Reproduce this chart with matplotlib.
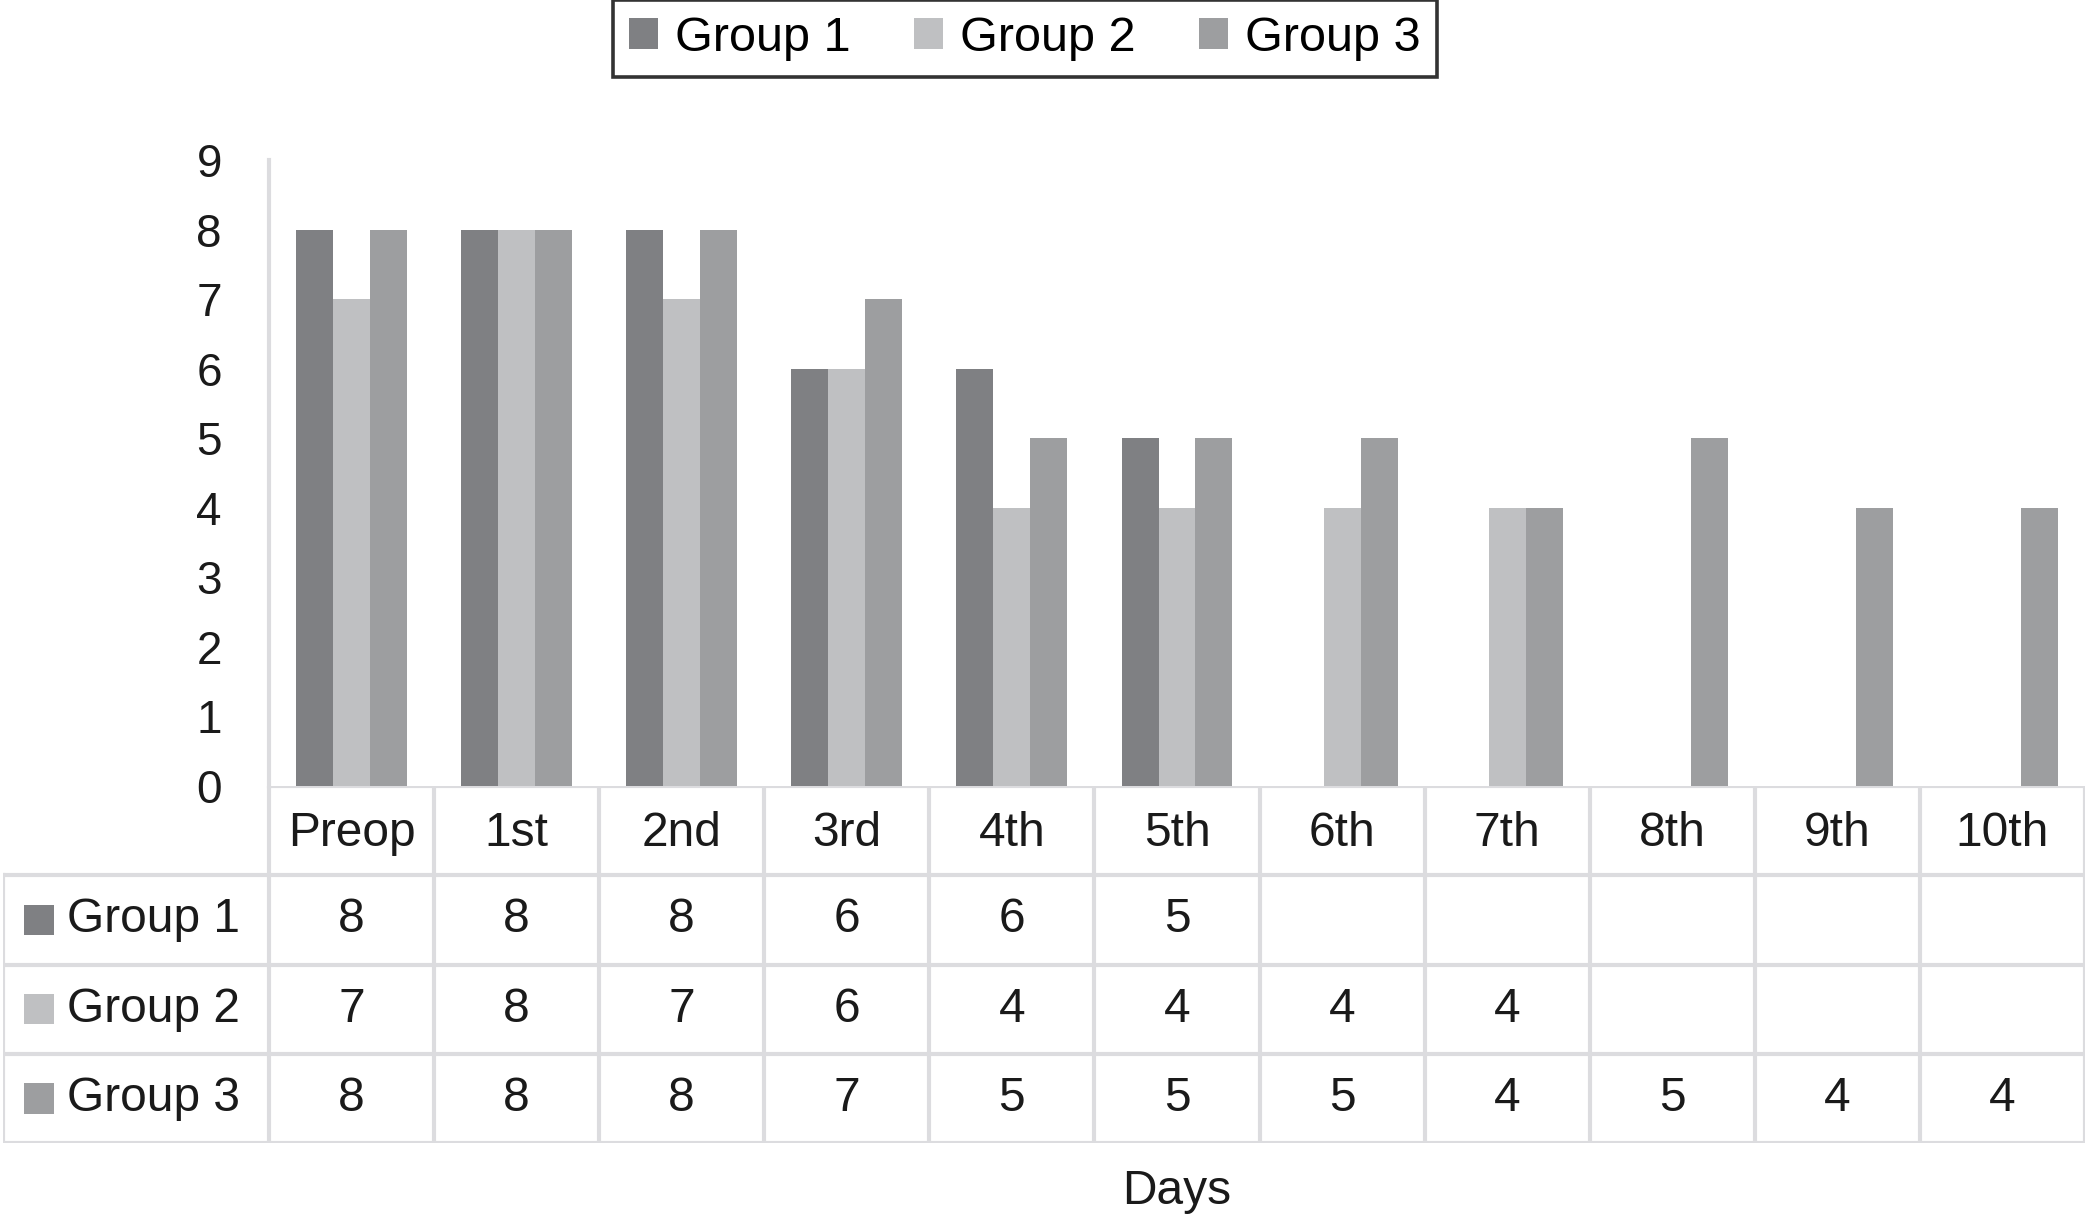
import matplotlib.pyplot as plt
from matplotlib.patches import Rectangle
import numpy as np

plt.rcParams['font.family'] = ['Liberation Sans', 'DejaVu Sans']

# data
days = ['Preop', '1st', '2nd', '3rd', '4th', '5th', '6th', '7th', '8th', '9th', '10th']
group_names = ['Group 1', 'Group 2', 'Group 3']
group1 = [8, 8, 8, 6, 6, 5, None, None, None, None, None]
group2 = [7, 8, 7, 6, 4, 4, 4, 4, None, None, None]
group3 = [8, 8, 8, 7, 5, 5, 5, 4, 5, 4, 4]
colors = ['#7f8083', '#bfc0c2', '#9d9ea0']
grid_col = '#dcdcdf'

W, H = 2088, 1219
fig = plt.figure(figsize=(W / 100, H / 100), dpi=100)

# pixel layout
x0, x1 = 269, 2085      # category columns
y_top, y_base = 160, 786  # axes top (9) and base (0)
lab_left = 3
row_h = (1143 - 786) / 4

ax = fig.add_axes([x0 / W, 1 - y_base / H, (x1 - x0) / W, (y_base - y_top) / H])
n = len(days)
xc = np.arange(n) + 0.5
bw = 0.224
series = [group1, group2, group3]
for k, vals in enumerate(series):
    v = np.array([np.nan if a is None else a for a in vals], dtype=float)
    ax.bar(xc + (k - 1) * bw, np.nan_to_num(v), width=bw, color=colors[k],
           label=group_names[k], linewidth=0)
ax.set_xlim(0, n)
ax.set_ylim(0, 9)
ax.set_yticks(range(10))
ax.tick_params(axis='y', length=0, pad=34, labelsize=33, colors='#1a1a1a')
ax.set_xticks([])
for s in ['top', 'right', 'bottom']:
    ax.spines[s].set_visible(False)
ax.spines['left'].set_color(grid_col)
ax.spines['left'].set_linewidth(3)

# table under the plot
fs = 34.5
lab_w = (x0 - lab_left) / ((x1 - x0) / n)
tab = fig.add_axes([lab_left / W, 1 - 1143 / H, (x1 - lab_left) / W, 4 * row_h / H])
tab.set_xlim(-lab_w, n)
tab.set_ylim(0, 4)
tab.axis('off')
lw = 3
# horizontal lines
tab.plot([0, n], [4, 4], color=grid_col, lw=lw, solid_capstyle='butt')
for yy in [3, 2, 1, 0]:
    tab.plot([-lab_w, n], [yy, yy], color=grid_col, lw=lw, solid_capstyle='butt')
# vertical lines
tab.plot([-lab_w, -lab_w], [0, 3], color=grid_col, lw=lw)
for i in range(n + 1):
    tab.plot([i, i], [0, 4], color=grid_col, lw=lw)
for i, d in enumerate(days):
    tab.text(i + 0.5, 3.47, d, ha='center', va='center', fontsize=fs, color='#1a1a1a')
for r, vals in enumerate(series):
    yy = 2.5 - r
    tab.add_patch(Rectangle((-lab_w + 0.13, yy - 0.17), 0.18, 0.34,
                            color=colors[r], lw=0))
    tab.text(-lab_w + 0.39, yy, group_names[r], ha='left', va='center',
             fontsize=fs, color='#1a1a1a')
    for i, a in enumerate(vals):
        if a is not None:
            tab.text(i + 0.5, yy, str(a), ha='center', va='center',
                     fontsize=fs, color='#1a1a1a')

fig.text((x0 + x1) / 2 / W, 1 - 1192 / H, 'Days', ha='center', va='center',
         fontsize=fs, color='#1a1a1a')

leg = fig.legend(loc='upper center', bbox_to_anchor=(1025 / W, 1.0), ncol=3,
                 fontsize=35, handlelength=0.6, handleheight=0.6,
                 handletextpad=0.35, columnspacing=1.3, borderpad=0.33,
                 fancybox=False, borderaxespad=0)
leg.get_frame().set_edgecolor('black')
leg.get_frame().set_linewidth(2.6)

fig.savefig('out.png', dpi=100)
